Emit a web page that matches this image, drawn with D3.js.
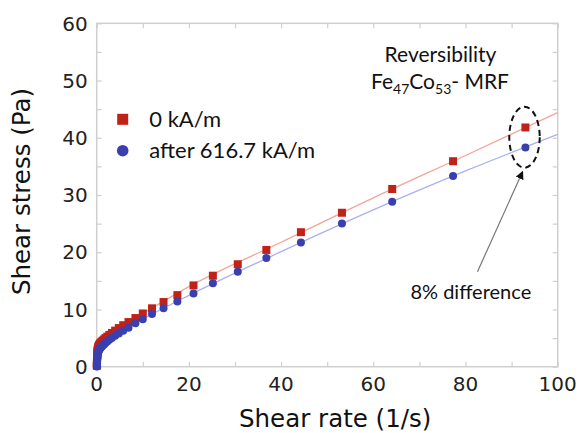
<!DOCTYPE html>
<html><head><meta charset="utf-8">
<script src="https://cdn.jsdelivr.net/npm/d3@7"></script>
<style>body{margin:0;background:#fff}svg{display:block}</style>
</head><body>
<svg id="c" width="580" height="433"></svg>
<script>
// Data
const shearRate = [0.032,0.038,0.046,0.055,0.067,0.08,0.1,0.12,0.14,0.17,0.2,0.25,0.3,0.36,0.43,0.52,0.62,0.75,0.9,1.1,1.3,1.6,1.9,2.3,2.75,3.3,4.0,4.8,5.75,6.9,8.4,10.0,12.0,14.5,17.5,21.0,25.2,30.6,36.8,44.3,53.2,64.1,77.3,93.0];
const stress0kA = [0.15,0.35,0.6,0.9,1.2,1.5,1.8,2.1,2.4,2.65,2.9,3.1,3.3,3.45,3.6,3.75,3.9,4.05,4.2,4.35,4.55,4.75,5.0,5.25,5.55,5.9,6.3,6.75,7.25,7.8,8.5,9.3,10.2,11.3,12.5,14.2,15.9,17.9,20.4,23.5,26.9,31.05,35.9,41.8];
const stressAfter = [0.05,0.1,0.2,0.35,0.55,0.8,1.05,1.3,1.55,1.8,2.05,2.25,2.45,2.6,2.75,2.9,3.05,3.2,3.35,3.5,3.7,3.9,4.15,4.4,4.7,5.0,5.4,5.8,6.3,6.8,7.6,8.3,9.2,10.2,11.4,12.8,14.6,16.6,19.0,21.7,25.0,28.8,33.3,38.3];
// fitted trend lines
const fitRate = [0.5,2,5,10,20,40,60,80,100];
const fit0kA = [3.8,5.2,7.0,9.3,14.0,21.75,29.5,36.9,44.4];
const fitAfter = [2.95,4.25,6.0,8.3,12.45,20.1,27.4,34.2,40.6];
const xTicks = [0,20,40,60,80,100];
const yTicks = [0,10,20,30,40,50,60];
const seriesNames = ["0 kA/m","after 616.7 kA/m"];

const svg = d3.select("#c");
const m = {l:96.7, r:557.7, t:23.3, b:366.7};
const x = d3.scaleLinear().domain([0,100]).range([m.l,m.r]);
const y = d3.scaleLinear().domain([0,60]).range([m.b,m.t]);
const red = "#bf2219", blue = "#3a3fb0", redL = "#f4a49c", blueL = "#aab0f2";
const frameC = "#cfcfcf";
const tickFont = "'DejaVu Sans', sans-serif";
const lblFont = "Lato, 'Open Sans', sans-serif";

// frame
svg.append("rect").attr("x",m.l).attr("y",m.t).attr("width",m.r-m.l).attr("height",m.b-m.t)
  .attr("fill","none").attr("stroke",frameC).attr("stroke-width",1.5);

// axes with inner ticks
const axB = d3.axisBottom(x).tickValues(d3.range(0,101,10)).tickSize(-5).tickFormat("");
const axT = d3.axisTop(x).tickValues(d3.range(0,101,10)).tickSize(-5).tickFormat("");
const axL = d3.axisLeft(y).tickValues(d3.range(0,61,5)).tickSize(-5).tickFormat("");
const axR = d3.axisRight(y).tickValues(d3.range(0,61,5)).tickSize(-5).tickFormat("");
[[axB,`translate(0,${m.b})`],[axT,`translate(0,${m.t})`],[axL,`translate(${m.l},0)`],[axR,`translate(${m.r},0)`]].forEach(([a,t])=>{
  const g = svg.append("g").attr("transform",t).call(a);
  g.select(".domain").remove();
  g.selectAll("line").attr("stroke",frameC).attr("stroke-width",1.2);
});

// tick labels
svg.append("g").selectAll("text").data(xTicks).join("text")
  .attr("x",d=>x(d)).attr("y",m.b+24).attr("text-anchor","middle")
  .attr("font-family",tickFont).attr("font-size",20).attr("fill","#222").text(d=>d);
svg.append("g").selectAll("text").data(yTicks).join("text")
  .attr("x",m.l-9).attr("y",d=>y(d)).attr("dy","0.36em").attr("text-anchor","end")
  .attr("font-family",tickFont).attr("font-size",20).attr("fill","#222").text(d=>d);

// axis titles
svg.append("text").attr("x",(m.l+m.r)/2+8).attr("y",427).attr("text-anchor","middle")
  .attr("font-family",tickFont).attr("font-size",24.5).attr("fill","#111").text("Shear rate (1/s)");
svg.append("text").attr("transform","translate(30,191.5) rotate(-90)").attr("text-anchor","middle")
  .attr("font-family",tickFont).attr("font-size",24.5).attr("fill","#111").text("Shear stress (Pa)");

// fit lines
const line = d3.line().x(d=>x(d[0])).y(d=>y(d[1])).curve(d3.curveMonotoneX);
svg.append("path").datum(fitRate.map((r,i)=>[r,fit0kA[i]])).attr("d",line)
  .attr("fill","none").attr("stroke",redL).attr("stroke-width",1.3);
svg.append("path").datum(fitRate.map((r,i)=>[r,fitAfter[i]])).attr("d",line)
  .attr("fill","none").attr("stroke",blueL).attr("stroke-width",1.3);

// markers
const sq = 8;
svg.append("g").selectAll("rect").data(shearRate.map((r,i)=>[r,stress0kA[i]])).join("rect")
  .attr("x",d=>x(d[0])-sq/2).attr("y",d=>y(d[1])-sq/2).attr("width",sq).attr("height",sq).attr("fill",red);
svg.append("g").selectAll("circle").data(shearRate.map((r,i)=>[r,stressAfter[i]])).join("circle")
  .attr("cx",d=>x(d[0])).attr("cy",d=>y(d[1])).attr("r",4).attr("fill",blue);

// legend
svg.append("rect").attr("x",122.7-5.5).attr("y",119.3-5.5).attr("width",11).attr("height",11).attr("fill",red);
svg.append("circle").attr("cx",122.7).attr("cy",150.7).attr("r",5.8).attr("fill",blue);
svg.append("text").attr("x",149.3).attr("y",127.3).attr("font-family",lblFont).attr("font-size",22).attr("fill","#111").text(seriesNames[0]);
svg.append("text").attr("x",149.3).attr("y",158).attr("font-family",lblFont).attr("font-size",22).attr("fill","#111").text(seriesNames[1]);

// title annotation
svg.append("text").attr("x",440.5).attr("y",61.7).attr("text-anchor","middle")
  .attr("font-family",lblFont).attr("font-size",21).attr("fill","#111").text("Reversibility");
const t2 = svg.append("text").attr("x",440).attr("y",89.3).attr("text-anchor","middle")
  .attr("font-family",lblFont).attr("font-size",21).attr("fill","#111");
t2.append("tspan").text("Fe");
t2.append("tspan").attr("font-size",14).attr("dy",5).text("47");
t2.append("tspan").attr("dy",-5).text("Co");
t2.append("tspan").attr("font-size",14).attr("dy",5).text("53");
t2.append("tspan").attr("dy",-5).text("- MRF");

// dashed ellipse and arrow
svg.append("ellipse").attr("cx",x(92.8)).attr("cy",y(40.1)).attr("rx",x(3.3)-x(0)).attr("ry",y(0)-y(5.33))
  .attr("fill","none").attr("stroke","#111").attr("stroke-width",2).attr("stroke-dasharray","6,4");
svg.append("defs").append("marker").attr("id","ah").attr("viewBox","0 0 10 10").attr("refX",9).attr("refY",5)
  .attr("markerWidth",7).attr("markerHeight",7).attr("orient","auto")
  .append("path").attr("d","M0,0L10,5L0,10z").attr("fill","#111");
svg.append("line").attr("x1",x(82.6)).attr("y1",y(16.6)).attr("x2",x(92.4)).attr("y2",y(34.1))
  .attr("stroke","#777").attr("stroke-width",1.2).attr("marker-end","url(#ah)");
svg.append("text").attr("x",470.8).attr("y",299.3).attr("text-anchor","middle")
  .attr("font-family",lblFont).attr("font-size",20).attr("fill","#111").text("8% difference");
</script>
</body></html>
